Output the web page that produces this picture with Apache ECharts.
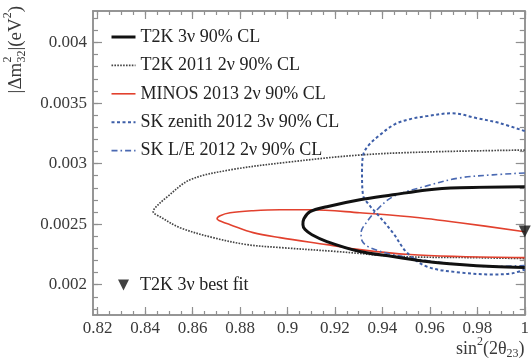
<!DOCTYPE html>
<html>
<head>
<meta charset="utf-8">
<script src="https://cdn.jsdelivr.net/npm/echarts@6/dist/echarts.min.js"></script>
<style>
  html, body { margin: 0; padding: 0; background: #fff; }
  #chart { width: 532px; height: 363px; }
</style>
</head>
<body>
<div id="chart"></div>
<script>
// 90% CL contours in the (sin^2(2θ23), |Δm^2_32|) plane, each an open curve
// running from x = 1 on the upper edge, round the nose, back to x = 1.
const t2k3nu = [
  [1.0, 0.002808], [0.9726, 0.002800], [0.9587, 0.002783], [0.9444, 0.002742],
  [0.9305, 0.002701], [0.9166, 0.002644], [0.9095, 0.002603], [0.9069, 0.002545],
  [0.9065, 0.002496], [0.9074, 0.002455], [0.9103, 0.002413], [0.9166, 0.002356],
  [0.9305, 0.002274], [0.9444, 0.002233], [0.9587, 0.002192], [0.9726, 0.002167],
  [0.9865, 0.002150], [1.0, 0.002142]
];
const t2k2011 = [
  [1.0, 0.003112], [0.9587, 0.003096], [0.9305, 0.003071], [0.9011, 0.003014],
  [0.8758, 0.002948], [0.8589, 0.002866], [0.8493, 0.002726], [0.8442, 0.002635],
  [0.8434, 0.002603], [0.8463, 0.002561], [0.8547, 0.002471], [0.8686, 0.002389],
  [0.8829, 0.002331], [0.8968, 0.002307], [0.9208, 0.002274], [0.9474, 0.002233],
  [0.9768, 0.002224], [1.0, 0.002216]
];
const minos2013 = [
  [1.0, 0.002438], [0.9726, 0.002512], [0.9516, 0.002561], [0.9305, 0.002594],
  [0.9095, 0.002619], [0.8968, 0.002619], [0.8855, 0.002611], [0.8758, 0.002594],
  [0.8716, 0.002570], [0.8703, 0.002545], [0.8724, 0.002520], [0.8758, 0.002496],
  [0.8855, 0.002430], [0.8968, 0.002389], [0.9166, 0.002331], [0.9305, 0.002290],
  [0.9516, 0.002249], [0.9726, 0.002233], [1.0, 0.002224]
];
const skZenith2012 = [
  [1.0, 0.003268], [0.9895, 0.003334], [0.9798, 0.003375], [0.9693, 0.003416],
  [0.9587, 0.003392], [0.9516, 0.003367], [0.9453, 0.003326], [0.9389, 0.003236],
  [0.9339, 0.003145], [0.9318, 0.003063], [0.9314, 0.002923], [0.9318, 0.002742],
  [0.9347, 0.002652], [0.9377, 0.002586], [0.9444, 0.002430], [0.9503, 0.002266],
  [0.9587, 0.002150], [0.9726, 0.002101], [0.9865, 0.002085], [0.9945, 0.002093],
  [1.0, 0.002126]
];
const skLE2012 = [
  [1.0, 0.002923], [0.9865, 0.002907], [0.9726, 0.002882], [0.9587, 0.002816],
  [0.9444, 0.002726], [0.9377, 0.002619], [0.9335, 0.002520], [0.9310, 0.002430],
  [0.9314, 0.002364], [0.9347, 0.002307], [0.9444, 0.002249], [0.9587, 0.002200],
  [0.9726, 0.002167], [0.9865, 0.002150], [1.0, 0.002159]
];
const t2kBestFit = [[1.0, 0.00244]];

const seriesNames = [
  'T2K 3ν 90% CL',
  'T2K 2011 2ν 90% CL',
  'MINOS 2013 2ν 90% CL',
  'SK zenith 2012 3ν 90% CL',
  'SK L/E 2012 2ν 90% CL'
];
const bestFitName = 'T2K 3ν best fit';

const xMajorTicks = [0.82, 0.84, 0.86, 0.88, 0.9, 0.92, 0.94, 0.96, 0.98, 1];
const yMajorTicks = [0.002, 0.0025, 0.003, 0.0035, 0.004];

const X_MIN = 0.818, X_MAX = 1.0;
const Y_MIN = 0.00175, Y_MAX = 0.00426;

// minor tick positions
function steps(from, to, step, scale) {
  const out = [];
  for (let i = Math.round(from * scale); i <= Math.round(to * scale); i += Math.round(step * scale)) {
    out.push(i / scale);
  }
  return out;
}
const xMinorTicks = steps(0.82, 1.0, 0.005, 1000);
const yMinorTicks = steps(0.0018, 0.0042, 0.0001, 100000);

const FONT = 'Liberation Serif';
const FRAME = '#8f8f8f';
const LABEL = '#3a3a3a';

// tick labels go through a rich style so the serif face is applied
const tickRich = { t: { fontFamily: FONT, fontSize: 17, color: LABEL } };

function makeXAxis(position, ticks, len, withLabels) {
  return {
    type: 'value', min: X_MIN, max: X_MAX, position: position,
    axisLine: { show: true, onZero: false, lineStyle: { color: FRAME, width: 1.5 } },
    splitLine: { show: false },
    axisTick: { show: true, inside: true, length: len, customValues: ticks,
                lineStyle: { color: FRAME, width: 1.2 } },
    axisLabel: withLabels ? {
      show: true, customValues: xMajorTicks, margin: 5,
      fontFamily: FONT, fontSize: 17, color: LABEL, rich: tickRich,
      formatter: v => '{t|' + String(v) + '}'
    } : { show: false }
  };
}
function makeYAxis(position, ticks, len, withLabels) {
  return {
    type: 'value', min: Y_MIN, max: Y_MAX, position: position,
    axisLine: { show: true, onZero: false, lineStyle: { color: FRAME, width: 1.5 } },
    splitLine: { show: false },
    axisTick: { show: true, inside: true, length: len, customValues: ticks,
                lineStyle: { color: FRAME, width: 1.2 } },
    axisLabel: withLabels ? {
      show: true, customValues: yMajorTicks, margin: 6,
      fontFamily: FONT, fontSize: 17, color: LABEL, rich: tickRich,
      formatter: v => '{t|' + String(v) + '}'
    } : { show: false }
  };
}

// axis titles built from pieces so that sub/superscripts sit correctly
const measureCtx = document.createElement('canvas').getContext('2d');
function mathText(pieces) {
  let x = 0;
  const children = [];
  pieces.forEach(p => {
    measureCtx.font = p.s + 'px "' + FONT + '"';
    const w = measureCtx.measureText(p.t).width;
    children.push({
      type: 'text', x: x, y: p.dy || 0, silent: true,
      style: { text: p.t, fontFamily: FONT, fontSize: p.s, fill: LABEL,
               align: 'left', verticalAlign: 'middle' }
    });
    if (!p.hold) x += w;
  });
  return { children: children, width: x };
}
const xTitle = mathText([
  { t: 'sin', s: 18 }, { t: '2', s: 12, dy: -7 }, { t: '(2θ', s: 18 },
  { t: '23', s: 12, dy: 5 }, { t: ')', s: 18 }
]);
const yTitle = mathText([
  { t: '|Δm', s: 19 }, { t: '2', s: 12, dy: -8, hold: true }, { t: '32', s: 12, dy: 6 },
  { t: '|(eV', s: 19 }, { t: '2', s: 12, dy: -8 }, { t: ')', s: 19 }
]);

function contour(name, data, color, width, type) {
  return {
    name: name, type: 'line', data: data, xAxisIndex: 0, yAxisIndex: 0,
    symbol: 'none', smooth: 0.35, clip: false, silent: true,
    lineStyle: { color: color, width: width, type: type },
    itemStyle: { color: color },
    z: 3
  };
}

const chart = echarts.init(document.getElementById('chart'), null, { renderer: 'canvas' });
chart.setOption({
  backgroundColor: '#fff',
  animation: false,
  textStyle: { fontFamily: FONT },
  grid: { left: 93, right: 7, top: 11, bottom: 48, containLabel: false },
  xAxis: [
    makeXAxis('bottom', xMajorTicks, 8, true),
    makeXAxis('bottom', xMinorTicks, 4, false),
    makeXAxis('top', xMajorTicks, 8, false),
    makeXAxis('top', xMinorTicks, 4, false)
  ],
  yAxis: [
    makeYAxis('left', yMajorTicks, 9, true),
    makeYAxis('left', yMinorTicks, 5, false),
    makeYAxis('right', yMajorTicks, 9, false),
    makeYAxis('right', yMinorTicks, 5, false)
  ],
  legend: [
    {
      data: seriesNames, orient: 'vertical', left: 110, top: 28, padding: 0,
      itemWidth: 24, itemHeight: 10, itemGap: 10.4, selectedMode: false,
      lineStyle: { width: 'inherit' },
      itemStyle: { opacity: 0 },
      textStyle: { fontFamily: FONT, fontSize: 18, color: '#222' }
    },
    {
      data: [{ name: bestFitName, icon: 'path://M0,0 L10,0 L5,10 Z' }],
      left: 118, top: 276, padding: 0, itemWidth: 11, itemHeight: 11, selectedMode: false,
      textStyle: { fontFamily: FONT, fontSize: 18, color: '#222', padding: [0, 0, 0, 6] }
    }
  ],
  series: [
    contour(seriesNames[1], t2k2011, '#444', 1.7, [1.6, 1.3]),
    contour(seriesNames[2], minos2013, '#e2412e', 1.6, 'solid'),
    contour(seriesNames[3], skZenith2012, '#3d5ea8', 2, [3, 2.5]),
    contour(seriesNames[4], skLE2012, '#4a69b2', 1.6, [6, 3, 1.6, 3]),
    contour(seriesNames[0], t2k3nu, '#111', 3, 'solid'),
    {
      name: bestFitName, type: 'scatter', data: t2kBestFit,
      symbol: 'triangle', symbolRotate: 180, symbolSize: 12, clip: false,
      itemStyle: { color: '#111' }, z: 5, silent: true
    }
  ],
  graphic: [
    { type: 'group', x: 456, y: 349, children: xTitle.children },
    { type: 'group', x: 16, y: 6 + yTitle.width, rotation: Math.PI / 2, children: yTitle.children }
  ]
});
</script>
</body>
</html>
